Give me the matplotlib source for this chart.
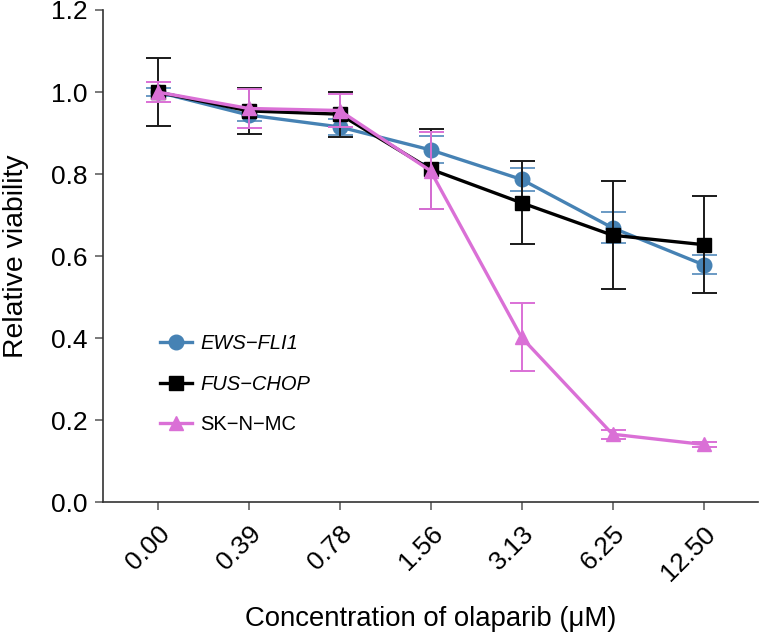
import numpy as np
import matplotlib
matplotlib.use("Agg")
import matplotlib.pyplot as plt

plt.rcParams["font.family"] = ["Liberation Sans", "DejaVu Sans"]

# Data
concentrations = ["0.00", "0.39", "0.78", "1.56", "3.13", "6.25", "12.50"]

ews_fli1 = [1.000, 0.944, 0.915, 0.859, 0.787, 0.669, 0.579]
ews_fli1_err = [0.010, 0.015, 0.020, 0.033, 0.027, 0.038, 0.023]

fus_chop = [1.000, 0.954, 0.946, 0.812, 0.730, 0.651, 0.628]
fus_chop_err = [0.083, 0.057, 0.055, 0.097, 0.101, 0.132, 0.119]

sknmc = [1.000, 0.960, 0.955, 0.808, 0.402, 0.166, 0.141]
sknmc_err = [0.024, 0.048, 0.040, 0.094, 0.083, 0.011, 0.005]

labels = ["EWS\u2212FLI1", "FUS\u2212CHOP", "SK\u2212N\u2212MC"]
colors = ["#4682b4", "#000000", "#da70d6"]
err_colors = ["#6a9ac4", "#1a1a1a", "#da70d6"]
markers = ["o", "s", "^"]

fig = plt.figure(figsize=(7.6, 6.36), dpi=100)
ax = fig.add_axes([0.1355, 0.2102, 0.862, 0.7741])

x = np.arange(len(concentrations))
series = [(ews_fli1, ews_fli1_err), (fus_chop, fus_chop_err), (sknmc, sknmc_err)]
for i, (vals, errs) in enumerate(series):
    ax.errorbar(x, vals, yerr=errs, fmt="none", ecolor=err_colors[i],
                elinewidth=1.4, capsize=9, capthick=1.4, zorder=2 + i)
    ax.plot(x, vals, color=colors[i], marker=markers[i], markersize=10.5 if i != 1 else 9.5,
            linewidth=2.4, label=labels[i], zorder=3 + i)

ax.set_xlim(-0.6, 6.6)
ax.set_ylim(0, 1.2)
ax.set_yticks(np.arange(0, 1.21, 0.2))
ax.set_yticklabels([f"{v:.1f}" for v in np.arange(0, 1.21, 0.2)])
ax.set_xticks(x)
ax.set_xticklabels(concentrations, rotation=45, ha="right", rotation_mode="anchor")

for side in ("top", "right"):
    ax.spines[side].set_visible(False)
for side in ("left", "bottom"):
    ax.spines[side].set_color("#333333")
    ax.spines[side].set_linewidth(1.2)
ax.tick_params(axis="both", direction="out", length=6, width=1.1, color="#555555",
               labelsize=19, pad=5)
ax.tick_params(axis="x", pad=8)

ax.set_ylabel("Relative viability", fontsize=20.4, labelpad=16)
ax.set_xlabel("Concentration of olaparib (\u03bcM)", fontsize=19.8, labelpad=15)

leg = ax.legend(loc="upper left", bbox_to_anchor=(0.087, 0.342), frameon=False,
                borderaxespad=0, borderpad=0,
                fontsize=14.5, handlelength=1.6, handletextpad=0.4, labelspacing=1.08)
for t in leg.get_texts()[:2]:
    t.set_style("italic")

fig.savefig("out.png", dpi=100)
